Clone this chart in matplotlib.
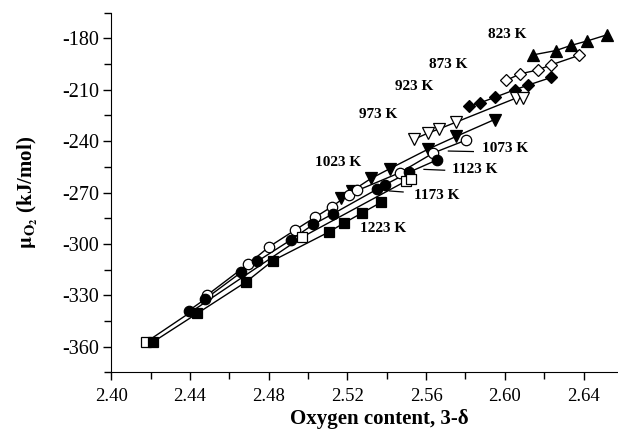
import matplotlib
matplotlib.use("Agg")
import matplotlib.pyplot as plt
from matplotlib.ticker import MultipleLocator

plt.rcParams["font.family"] = ["Liberation Serif", "DejaVu Serif"]
plt.rcParams["mathtext.fontset"] = "stix"

# oxygen content (3-delta) and mu_O2 (kJ/mol) per temperature
x_823 = [2.6142, 2.6258, 2.6335, 2.6420, 2.6521]
y_823 = [-189.7, -187.2, -184.2, -181.5, -177.9]

x_873 = [2.6006, 2.6077, 2.6166, 2.6233, 2.6376]
y_873 = [-204.6, -200.8, -198.5, -195.6, -190.0]

x_923 = [2.5816, 2.5876, 2.5950, 2.6054, 2.6119, 2.6237]
y_923 = [-219.5, -217.6, -214.4, -209.9, -207.3, -202.8]

x_973 = [2.5539, 2.5610, 2.5666, 2.5753, 2.6059, 2.6090]
y_973 = [-238.9, -235.3, -232.9, -228.9, -214.8, -214.8]

x_1023 = [2.5166, 2.5223, 2.5320, 2.5417, 2.5612, 2.5752, 2.5948]
y_1023 = [-273.4, -269.1, -261.8, -256.0, -244.6, -237.3, -227.4]

x_1073 = [2.4488, 2.4697, 2.4803, 2.4934, 2.5035, 2.5122, 2.5206, 2.5251,
          2.5467, 2.5637, 2.5803]
y_1073 = [-329.8, -311.6, -301.6, -291.9, -284.5, -278.2, -271.2, -268.8,
          -258.4, -246.9, -239.4]

x_1123 = [2.4393, 2.4476, 2.4661, 2.4742, 2.4912, 2.5027, 2.5129, 2.5350,
          2.5389, 2.5511, 2.5655]
y_1123 = [-339.0, -332.3, -316.5, -310.2, -297.7, -288.6, -282.3, -268.1,
          -265.6, -258.3, -251.0]

x_1173 = [2.4176, 2.4969, 2.5498, 2.5521]
y_1173 = [-357.4, -296.1, -263.3, -262.4]

x_1223 = [2.4210, 2.4438, 2.4686, 2.4822, 2.5105, 2.5183, 2.5273, 2.5372]
y_1223 = [-357.4, -340.5, -322.1, -309.7, -293.1, -287.8, -282.0, -275.7]

fig = plt.figure(figsize=(6.18, 4.33), dpi=100)
ax = fig.add_axes([111.3 / 618, 60.6 / 433, (617 - 111.3) / 618, (372.4 - 12.6) / 433])

def series(x, y, marker, filled, ms):
    ax.plot(x, y, color="black", lw=1.0, zorder=2)
    ax.plot(x, y, ls="none", marker=marker, ms=ms, mew=0.9,
            mec="black", mfc="black" if filled else "white", zorder=3)

series(x_823, y_823, "^", True, 8.5)
series(x_873, y_873, "D", False, 6.5)
series(x_923, y_923, "D", True, 6.5)
series(x_973, y_973, "v", False, 8.5)
series(x_1023, y_1023, "v", True, 8.5)
series(x_1073, y_1073, "o", False, 7.5)
series(x_1123, y_1123, "o", True, 7.5)
series(x_1173, y_1173, "s", False, 7)
series(x_1223, y_1223, "s", True, 7)

lab = dict(fontsize=11, fontweight="bold", va="center", ha="left")
ax.text(2.5912, -177.5, "823 K", **lab)
ax.text(2.5615, -195.0, "873 K", **lab)
ax.text(2.5442, -208.4, "923 K", **lab)
ax.text(2.5259, -224.2, "973 K", **lab)
ax.text(2.5035, -252.2, "1023 K", **lab)
ax.text(2.5883, -244.2, "1073 K", **lab)
ax.text(2.5730, -256.6, "1123 K", **lab)
ax.text(2.5536, -271.5, "1173 K", **lab)
ax.text(2.5264, -290.9, "1223 K", **lab)

# leader lines
ax.plot([2.5713, 2.5840], [-245.8, -246.1], color="black", lw=0.9)
ax.plot([2.5589, 2.5694], [-256.5, -257.0], color="black", lw=0.9)
ax.plot([2.5414, 2.5483], [-269.1, -269.7], color="black", lw=0.9)

ax.set_xlim(2.40, 2.657)
ax.set_ylim(-375, -165)
ax.xaxis.set_major_locator(MultipleLocator(0.04))
ax.xaxis.set_minor_locator(MultipleLocator(0.02))
ax.yaxis.set_major_locator(MultipleLocator(30))
ax.yaxis.set_minor_locator(MultipleLocator(15))
ax.xaxis.set_major_formatter(matplotlib.ticker.FormatStrFormatter("%.2f"))
ax.yaxis.set_major_formatter(matplotlib.ticker.FuncFormatter(lambda v, p: "%d" % v))
ax.tick_params(which="both", direction="out", width=1.0)
ax.tick_params(which="major", length=6)
ax.tick_params(which="minor", length=5)
ax.tick_params(axis="x", labelsize=13.5, pad=5)
ax.tick_params(axis="y", labelsize=14.5, pad=3)
ax.spines["top"].set_visible(False)
ax.spines["right"].set_visible(False)

ax.set_xlabel("Oxygen content, 3-δ", fontsize=15, fontweight="bold")
ax.xaxis.set_label_coords(0.529, -0.102)
ax.set_ylabel(r"$\mathbf{\mu_{O_2}}$ (kJ/mol)", fontsize=15, fontweight="bold", labelpad=16)

fig.savefig("out.png", dpi=100)
